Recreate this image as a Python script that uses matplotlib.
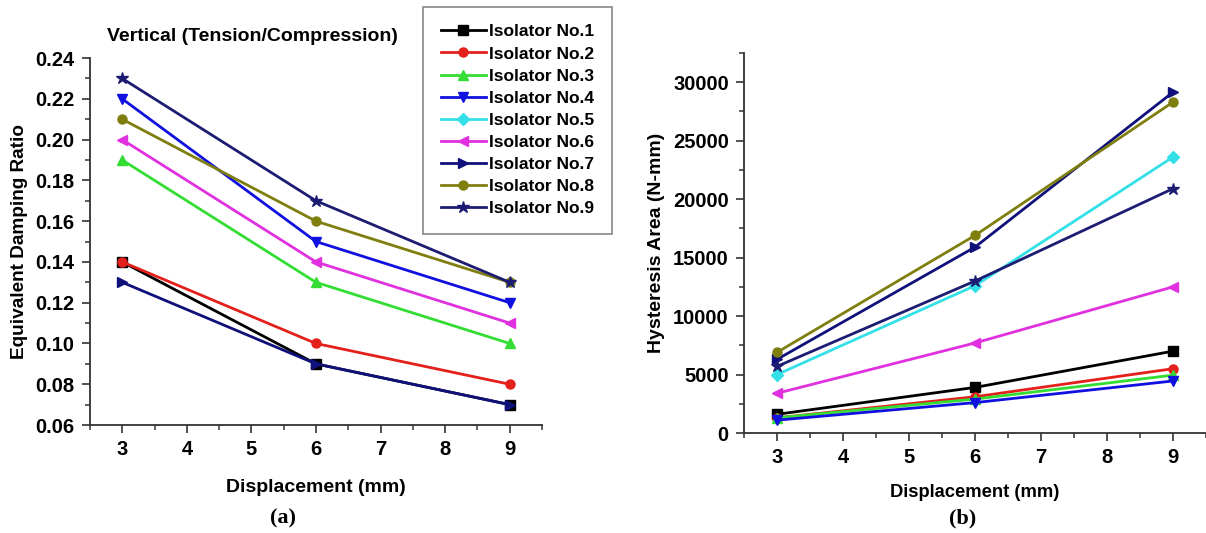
"""Damping ratio and hysteresis area of the nine isolators

Two panels against displacement, with a shared legend between them.
"""

import matplotlib.pyplot as plt
from matplotlib.ticker import MultipleLocator

displacement = [3, 6, 9]

labels = ['Isolator No.%d' % i for i in range(1, 10)]
colors = ['#000000', '#e3201c', '#33dd33', '#1010e0', '#33e0e8',
          '#e030e0', '#10107a', '#7f7f10', '#1c1c72']
markers = ['s', 'o', '^', 'v', 'D', '<', '>', 'o', '*']

# equivalent damping ratio (None -> not plotted in panel a)
damping = [
    [0.14, 0.09, 0.07],
    [0.14, 0.10, 0.08],
    [0.19, 0.13, 0.10],
    [0.22, 0.15, 0.12],
    None,
    [0.20, 0.14, 0.11],
    [0.13, 0.09, 0.07],
    [0.21, 0.16, 0.13],
    [0.23, 0.17, 0.13],
]

# hysteresis area, N-mm
hysteresis = [
    [1600, 3900, 7000],
    [1300, 3100, 5500],
    [1300, 2900, 4950],
    [1100, 2600, 4450],
    [5000, 12600, 23600],
    [3400, 7700, 12500],
    [6300, 15900, 29150],
    [6900, 16900, 28300],
    [5700, 13000, 20900],
]

plt.rcParams['font.family'] = ['Liberation Sans', 'DejaVu Sans']
plt.rcParams['font.weight'] = 'bold'
plt.rcParams['axes.labelweight'] = 'bold'

SPINE = '#333333'


def style_axes(ax, tick_size):
    for side in ('top', 'right'):
        ax.spines[side].set_visible(False)
    for side in ('left', 'bottom'):
        ax.spines[side].set_color(SPINE)
        ax.spines[side].set_linewidth(1.3)
    ax.tick_params(which='major', direction='out', length=6, width=1.2,
                   color=SPINE, labelsize=tick_size, pad=5)
    ax.tick_params(which='minor', direction='out', length=3.5, width=1.1,
                   color=SPINE)
    ax.xaxis.set_major_locator(MultipleLocator(1))
    ax.xaxis.set_minor_locator(MultipleLocator(0.5))
    ax.set_xlim(2.5, 9.5)


def marker_size(m):
    return 9 if m == '*' else 6.5


fig = plt.figure(figsize=(12.06, 5.33), dpi=100)
ax1 = fig.add_axes([0.0746, 0.2026, 0.3748, 0.6884])
ax2 = fig.add_axes([0.617, 0.1876, 0.383, 0.713])

# panel (a)
for vals, c, m in zip(damping, colors, markers):
    if vals is None:
        continue
    ax1.plot(displacement, vals, color=c, marker=m, ms=marker_size(m),
             lw=2, clip_on=False)
style_axes(ax1, 14.5)
ax1.set_ylim(0.06, 0.24)
ax1.yaxis.set_major_locator(MultipleLocator(0.02))
ax1.yaxis.set_minor_locator(MultipleLocator(0.01))
ax1.yaxis.set_major_formatter(lambda v, p: '%.2f' % v)
ax1.set_xlabel('Displacement (mm)', fontsize=14, labelpad=14)
ax1.set_ylabel('Equivalent Damping Ratio', fontsize=13.7, labelpad=5)
ax1.set_title('Vertical (Tension/Compression)', fontsize=14,
              fontweight='bold', x=0.36, pad=12)

# panel (b)
handles = []
for vals, c, m, lab in zip(hysteresis, colors, markers, labels):
    h, = ax2.plot(displacement, vals, color=c, marker=m, ms=marker_size(m),
                  lw=2, label=lab, clip_on=False)
    handles.append(h)
style_axes(ax2, 14.5)
ax2.set_ylim(0, 32500)
ax2.yaxis.set_major_locator(MultipleLocator(5000))
ax2.yaxis.set_minor_locator(MultipleLocator(2500))
ax2.set_xlabel('Displacement (mm)', fontsize=13.2, labelpad=12)
ax2.set_ylabel('Hysteresis Area (N-mm)', fontsize=14, labelpad=6)

leg = fig.legend(handles=handles, loc='upper left',
                 bbox_to_anchor=(0.351, 0.987), fontsize=12.5,
                 handlelength=2.6, handletextpad=0.2, labelspacing=0.4,
                 borderpad=1.0, fancybox=False, framealpha=1,
                 borderaxespad=0)
leg.get_frame().set_edgecolor('#888888')
leg.get_frame().set_linewidth(1.2)
for t in leg.get_texts():
    t.set_fontweight('bold')

fig.text(0.235, 0.018, '(a)', family=['Liberation Serif', 'DejaVu Serif'],
         fontsize=16, fontweight='bold', ha='center')
fig.text(0.798, 0.018, '(b)', family=['Liberation Serif', 'DejaVu Serif'],
         fontsize=16, fontweight='bold', ha='center')

fig.savefig('out.png', dpi=100)
